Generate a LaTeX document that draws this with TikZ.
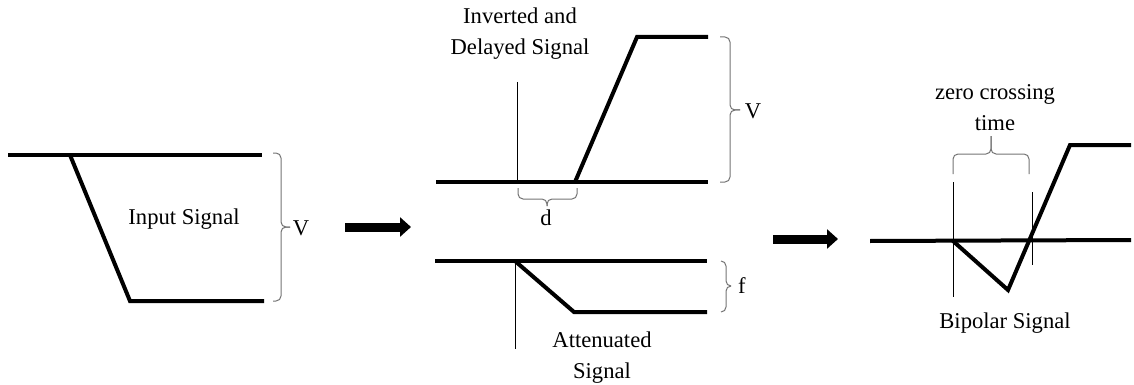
\documentclass[tikz,border=0pt]{standalone}
\usepackage{fontspec}
\setmainfont{Liberation Serif}
\usetikzlibrary{arrows.meta}

\begin{document}
\begin{tikzpicture}[
    x=0.5pt, y=-0.5pt,
    font=\fontsize{11.3}{15.5}\selectfont,
    signal/.style={line width=2pt},
    marker/.style={line width=0.5pt},
    bracket/.style={draw=gray!90!black, line width=0.5pt, rounded corners=2.5pt},
    flow/.style={line width=4.5pt, -{Triangle[length=5.5pt, width=9.5pt]}},
    lbl/.style={align=center, inner sep=0pt}
]
\useasboundingbox (0,0) rectangle (1134,385);

% Input signal
\coordinate (in_a) at (8,155);
\coordinate (in_b) at (70,155);
\coordinate (in_c) at (262,155);
\coordinate (in_d) at (130,301);
\coordinate (in_e) at (264,301);
\draw[signal] (in_a) -- (in_c);
\draw[signal] (in_b) -- (in_d) -- (in_e);
\coordinate (vin_tip) at (290,227);
\draw[bracket] (273,153) -- (281,153) -- (281,227) -- (vin_tip);
\draw[bracket] (273,301) -- (281,301) -- (281,227) -- (vin_tip);
\node[lbl] (in_text) at (184,219) {Input Signal};
\node[lbl] (vin) at (301,228) {V};

% Arrow 1
\coordinate (arr1_s) at (345,227);
\coordinate (arr1_e) at (411,227);
\draw[flow] (arr1_s) -- (arr1_e);

% Inverted and delayed signal
\coordinate (inv_a) at (436,182);
\coordinate (inv_b) at (575,182);
\coordinate (inv_c) at (708,182);
\coordinate (inv_d) at (637,37);
\coordinate (inv_e) at (708,37);
\draw[signal] (inv_a) -- (inv_c);
\draw[signal] (inv_b) -- (inv_d) -- (inv_e);
\draw[marker] (517,82) coordinate (inv_mark) -- (517,182);
\coordinate (vinv_tip) at (740,110);
\draw[bracket] (720,37) -- (730,37) -- (730,110) -- (vinv_tip);
\draw[bracket] (720,182) -- (730,182) -- (730,110) -- (vinv_tip);
\node[lbl] (inv_text) at (520,34) {Inverted and\\Delayed Signal};
\node[lbl] (vinv) at (753,111) {V};
\coordinate (d_tip) at (547,206);
\draw[bracket] (518,188) -- (518,199) -- (547,199) -- (d_tip);
\draw[bracket] (577,188) -- (577,199) -- (547,199) -- (d_tip);
\node[lbl] (dlabel) at (546,218) {d};

% Attenuated signal
\coordinate (att_a) at (435,261);
\coordinate (att_b) at (515,261);
\coordinate (att_c) at (707,261);
\coordinate (att_d) at (574,312);
\coordinate (att_e) at (707,312);
\draw[signal] (att_a) -- (att_c);
\draw[signal] (att_b) -- (att_d) -- (att_e);
\draw[marker] (att_b) -- (515,349) coordinate (att_mark);
\coordinate (f_tip) at (731,286);
\draw[bracket] (721,261) -- (726,261) -- (726,286) -- (f_tip);
\draw[bracket] (721,312) -- (726,312) -- (726,286) -- (f_tip);
\node[lbl] (flabel) at (742,286) {f};
\node[lbl] (att_text) at (602,358) {Attenuated\\Signal};

% Arrow 2
\coordinate (arr2_s) at (773,239);
\coordinate (arr2_e) at (838,239);
\draw[flow] (arr2_s) -- (arr2_e);

% Bipolar signal
\coordinate (bip_a) at (870,241);
\coordinate (bip_b) at (953,241);
\coordinate (bip_c) at (1131,240);
\coordinate (bip_d) at (1008,290);
\coordinate (bip_e) at (1070,145);
\coordinate (bip_f) at (1131,145);
\draw[signal] (bip_a) -- (bip_c);
\draw[signal] (bip_b) -- (bip_d) -- (bip_e) -- (bip_f);
\draw[marker] (953,182) coordinate (zc_left) -- (953,297);
\draw[marker] (1032,192) coordinate (zc_right) -- (1032,265);
\coordinate (zc_tip) at (991,136);
\draw[bracket] (953,174) -- (953,154) -- (991,154) -- (zc_tip);
\draw[bracket] (1029,174) -- (1029,154) -- (991,154) -- (zc_tip);
\node[lbl] (zc_text) at (995,108) {zero crossing\\time};
\node[lbl] (bip_text) at (1005,323) {Bipolar Signal};

\end{tikzpicture}
\end{document}
